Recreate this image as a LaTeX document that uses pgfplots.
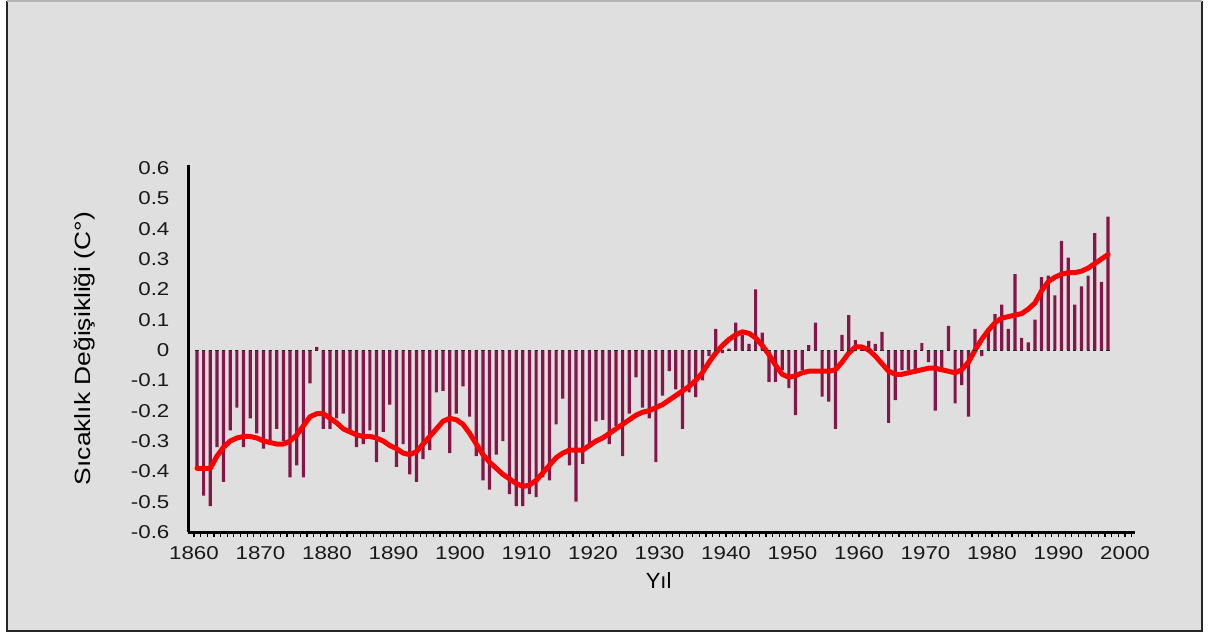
\documentclass[border=0pt]{standalone}
\usepackage{pgfplots}
\pgfplotsset{compat=1.18}
\usepackage{pgfplotstable}
\usepackage{fontspec}
\setmainfont{Liberation Sans}
\newfontfamily\tickfont[FakeStretch=1.2]{Liberation Sans}
\definecolor{bgc}{HTML}{DFDFDF}
\definecolor{barc}{HTML}{85164A}

\pgfplotstableread{
year val
1860 -0.39
1861 -0.48
1862 -0.515
1863 -0.32
1864 -0.435
1865 -0.265
1866 -0.19
1867 -0.32
1868 -0.225
1869 -0.275
1870 -0.325
1871 -0.30
1872 -0.26
1873 -0.30
1874 -0.42
1875 -0.38
1876 -0.42
1877 -0.11
1878 0.01
1879 -0.26
1880 -0.26
1881 -0.225
1882 -0.21
1883 -0.27
1884 -0.32
1885 -0.31
1886 -0.265
1887 -0.37
1888 -0.27
1889 -0.18
1890 -0.385
1891 -0.31
1892 -0.41
1893 -0.435
1894 -0.36
1895 -0.33
1896 -0.14
1897 -0.135
1898 -0.34
1899 -0.21
1900 -0.12
1901 -0.22
1902 -0.35
1903 -0.43
1904 -0.46
1905 -0.345
1906 -0.30
1907 -0.475
1908 -0.515
1909 -0.515
1910 -0.475
1911 -0.485
1912 -0.42
1913 -0.43
1914 -0.245
1915 -0.16
1916 -0.38
1917 -0.50
1918 -0.375
1919 -0.31
1920 -0.235
1921 -0.23
1922 -0.31
1923 -0.25
1924 -0.35
1925 -0.21
1926 -0.09
1927 -0.19
1928 -0.225
1929 -0.37
1930 -0.15
1931 -0.07
1932 -0.13
1933 -0.26
1934 -0.14
1935 -0.155
1936 -0.10
1937 -0.02
1938 0.07
1939 -0.01
1940 0.005
1941 0.09
1942 0.05
1943 0.02
1944 0.20
1945 0.057
1946 -0.105
1947 -0.105
1948 -0.066
1949 -0.126
1950 -0.215
1951 -0.066
1952 0.016
1953 0.09
1954 -0.154
1955 -0.17
1956 -0.26
1957 0.05
1958 0.115
1959 0.033
1960 0.016
1961 0.03
1962 0.02
1963 0.06
1964 -0.24
1965 -0.165
1966 -0.066
1967 -0.066
1968 -0.077
1969 0.023
1970 -0.04
1971 -0.20
1972 -0.07
1973 0.08
1974 -0.176
1975 -0.116
1976 -0.22
1977 0.07
1978 -0.02
1979 0.07
1980 0.118
1981 0.15
1982 0.07
1983 0.25
1984 0.04
1985 0.025
1986 0.10
1987 0.24
1988 0.245
1989 0.18
1990 0.36
1991 0.305
1992 0.15
1993 0.21
1994 0.245
1995 0.385
1996 0.225
1997 0.44
}\bardata

\pgfplotstableread{
year val
1860 -0.39
1861 -0.39
1862 -0.39
1863 -0.35
1864 -0.32
1865 -0.30
1866 -0.29
1867 -0.285
1868 -0.285
1869 -0.29
1870 -0.30
1871 -0.305
1872 -0.31
1873 -0.31
1874 -0.30
1875 -0.28
1876 -0.25
1877 -0.22
1878 -0.21
1879 -0.21
1880 -0.225
1881 -0.24
1882 -0.26
1883 -0.27
1884 -0.28
1885 -0.285
1886 -0.285
1887 -0.29
1888 -0.30
1889 -0.315
1890 -0.325
1891 -0.34
1892 -0.345
1893 -0.335
1894 -0.31
1895 -0.285
1896 -0.26
1897 -0.235
1898 -0.225
1899 -0.23
1900 -0.245
1901 -0.275
1902 -0.31
1903 -0.345
1904 -0.37
1905 -0.39
1906 -0.41
1907 -0.425
1908 -0.44
1909 -0.45
1910 -0.445
1911 -0.43
1912 -0.405
1913 -0.38
1914 -0.355
1915 -0.34
1916 -0.33
1917 -0.33
1918 -0.33
1919 -0.315
1920 -0.30
1921 -0.29
1922 -0.275
1923 -0.26
1924 -0.245
1925 -0.23
1926 -0.215
1927 -0.205
1928 -0.20
1929 -0.19
1930 -0.18
1931 -0.165
1932 -0.15
1933 -0.135
1934 -0.12
1935 -0.10
1936 -0.075
1937 -0.04
1938 -0.01
1939 0.015
1940 0.035
1941 0.05
1942 0.06
1943 0.055
1944 0.04
1945 0.015
1946 -0.015
1947 -0.05
1948 -0.08
1949 -0.09
1950 -0.085
1951 -0.075
1952 -0.07
1953 -0.07
1954 -0.07
1955 -0.07
1956 -0.065
1957 -0.04
1958 -0.01
1959 0.01
1960 0.01
1961 0.0
1962 -0.02
1963 -0.045
1964 -0.07
1965 -0.08
1966 -0.08
1967 -0.075
1968 -0.07
1969 -0.065
1970 -0.06
1971 -0.06
1972 -0.065
1973 -0.07
1974 -0.075
1975 -0.065
1976 -0.04
1977 0.0
1978 0.035
1979 0.065
1980 0.09
1981 0.105
1982 0.11
1983 0.115
1984 0.12
1985 0.135
1986 0.155
1987 0.195
1988 0.225
1989 0.24
1990 0.25
1991 0.255
1992 0.255
1993 0.26
1994 0.27
1995 0.285
1996 0.30
1997 0.315
}\smoothdata

\begin{document}
\begin{tikzpicture}
\begin{scope}[x=0.5pt,y=0.5pt]
\fill[white] (0,0) rectangle (1224,634);
\fill[bgc] (7,3) rectangle (1202,633);
\draw[black!85, line width=1pt] (7,633) -- (7,3) -- (1202,3) -- (1202,633);
\draw[gray!60, line width=0.6pt] (7,633) -- (1202,633);
\end{scope}
\begin{axis}[
  at={(94pt,51pt)}, anchor=south west,
  scale only axis, width=473.5pt, height=183.5pt,
  xmin=1859.1, xmax=2001.5, ymin=-0.6, ymax=0.61,
  axis lines*=left,
  axis line style={line width=1.5pt, black},
  xtick={1860,1870,...,2000},
  xticklabels={{\tickfont 1860},{\tickfont 1870},{\tickfont 1880},{\tickfont 1890},{\tickfont 1900},{\tickfont 1910},{\tickfont 1920},{\tickfont 1930},{\tickfont 1940},{\tickfont 1950},{\tickfont 1960},{\tickfont 1970},{\tickfont 1980},{\tickfont 1990},{\tickfont 2000}},
  minor xtick={1860,1861,...,2001},
  ytick={-0.6,-0.5,-0.4,-0.3,-0.2,-0.1,0,0.1,0.2,0.3,0.4,0.5,0.6},
  yticklabels={{\tickfont -0.6},{\tickfont -0.5},{\tickfont -0.4},{\tickfont -0.3},{\tickfont -0.2},{\tickfont -0.1},{\tickfont 0},{\tickfont 0.1},{\tickfont 0.2},{\tickfont 0.3},{\tickfont 0.4},{\tickfont 0.5},{\tickfont 0.6}},
  tick align=outside,
  major tick length=2.6pt, minor tick length=2.6pt,
  xtick style={draw=black, line width=0.6pt},
  minor tick style={draw=black, line width=0.6pt},
  ytick style={draw=none},
  every y tick label/.append style={font=\fontsize{9.3}{10}\selectfont, text=black!90, anchor=east, inner sep=0pt, xshift=-6.5pt},
  every x tick label/.append style={font=\fontsize{9.3}{10}\selectfont, text=black!90, anchor=north, inner sep=0pt, yshift=-4.5pt},
  xlabel={Yıl},
  ylabel={Sıcaklık Değişikliği (C°)},
  xlabel style={at={(axis description cs:0.497,-0.131)}, anchor=center, font=\fontsize{11}{12}\selectfont, inner sep=0pt},
  ylabel style={at={(axis description cs:-0.1088,0.5)}, anchor=center, font=\fontsize{11}{12}\selectfont, xscale=1.2, inner sep=0pt},
]
\addplot[ybar, bar width=1.6pt, fill=barc, draw=none] table[x expr=\thisrow{year}+0.45, y=val] {\bardata};
\addplot[only marks, mark=-, mark size=0.8pt, mark options={black!85, line width=0.5pt}] table[x expr=\thisrow{year}+0.45, y expr=0] {\bardata};
\addplot[red, line width=2.5pt, line join=round, line cap=round] table[x expr=\thisrow{year}+0.45, y=val] {\smoothdata};
\end{axis}
\pgfresetboundingbox
\useasboundingbox (0,0) rectangle (612pt,317pt);
\end{tikzpicture}
\end{document}
